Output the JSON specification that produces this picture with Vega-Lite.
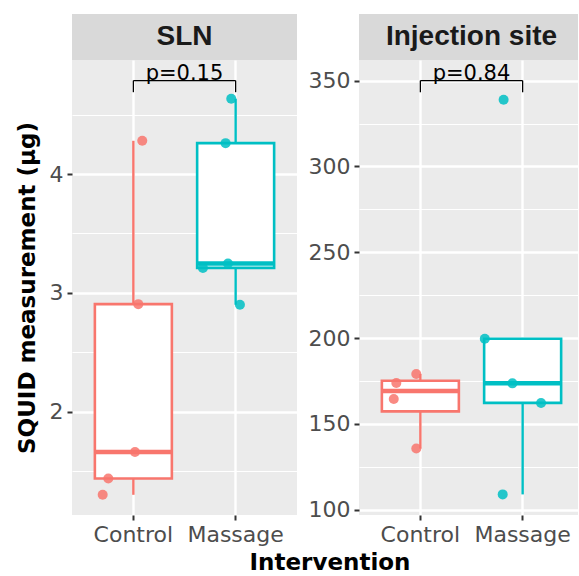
{
  "$schema": "https://vega.github.io/schema/vega-lite/v6.json",
  "background": "white",
  "padding": {"left": 16, "top": 14, "right": 0, "bottom": 0},
  "bounds": "flush",
  "columns": 2,
  "spacing": {"row": 0, "column": 62},
  "title": {"text": "Intervention", "orient": "bottom", "anchor": "middle", "font": "DejaVu Sans", "fontSize": 23, "fontWeight": "bold", "color": "#000000", "dx": 30, "offset": 7},
  "datasets": {
    "obs": [
      {"panel": "SLN", "group": "Control", "value": 4.28, "jitter": 0.087},
      {"panel": "SLN", "group": "Control", "value": 2.905, "jitter": 0.048},
      {"panel": "SLN", "group": "Control", "value": 1.66, "jitter": 0.016},
      {"panel": "SLN", "group": "Control", "value": 1.437, "jitter": -0.245},
      {"panel": "SLN", "group": "Control", "value": 1.30, "jitter": -0.30},
      {"panel": "SLN", "group": "Massage", "value": 4.634, "jitter": -0.043},
      {"panel": "SLN", "group": "Massage", "value": 4.26, "jitter": -0.098},
      {"panel": "SLN", "group": "Massage", "value": 3.247, "jitter": -0.075},
      {"panel": "SLN", "group": "Massage", "value": 3.21, "jitter": -0.32},
      {"panel": "SLN", "group": "Massage", "value": 2.90, "jitter": 0.042},
      {"panel": "Injection site", "group": "Control", "value": 179.1, "jitter": -0.04},
      {"panel": "Injection site", "group": "Control", "value": 173.8, "jitter": -0.235},
      {"panel": "Injection site", "group": "Control", "value": 164.5, "jitter": -0.26},
      {"panel": "Injection site", "group": "Control", "value": 135.6, "jitter": -0.04},
      {"panel": "Injection site", "group": "Massage", "value": 338.8, "jitter": -0.186},
      {"panel": "Injection site", "group": "Massage", "value": 199.6, "jitter": -0.37},
      {"panel": "Injection site", "group": "Massage", "value": 173.6, "jitter": -0.10},
      {"panel": "Injection site", "group": "Massage", "value": 162.2, "jitter": 0.18},
      {"panel": "Injection site", "group": "Massage", "value": 108.9, "jitter": -0.195}
    ],
    "brackets": [
      {"panel": "SLN", "g1": "Control", "g2": "Massage", "ytop": 4.787, "ybot": 4.689, "label": "p=0.15"},
      {"panel": "Injection site", "g1": "Control", "g2": "Massage", "ytop": 350, "ybot": 343.2, "label": "p=0.84"}
    ]
  },
  "concat": [
    {
      "width": 225, "height": 46,
      "view": {"fill": "#D9D9D9", "stroke": null},
      "data": {"values": [{"strip": "SLN"}]},
      "mark": {"type": "text", "font": "Liberation Sans", "fontSize": 28, "fontWeight": "bold", "color": "#1A1A1A", "baseline": "middle"},
      "encoding": {"text": {"field": "strip", "type": "nominal"}}
    },
    {
      "width": 219, "height": 46,
      "view": {"fill": "#D9D9D9", "stroke": null},
      "data": {"values": [{"strip": "Injection site"}]},
      "mark": {"type": "text", "font": "Liberation Sans", "fontSize": 28, "fontWeight": "bold", "color": "#1A1A1A", "baseline": "middle", "dx": 3},
      "encoding": {"text": {"field": "strip", "type": "nominal"}}
    },
    {
      "width": 225, "height": 455,
      "view": {"fill": "#EBEBEB", "stroke": null},
      "layer": [
        {
          "data": {"name": "obs"},
          "transform": [{"filter": "datum.panel === 'SLN'"}],
          "mark": {"type": "boxplot", "color": "white", "opacity": 1, "extent": 1.5, "size": 77, "rule": false, "median": false, "ticks": false, "outliers": false},
          "encoding": {
            "x": {"field": "group", "type": "nominal", "title": null,
                  "scale": {"domain": ["Control", "Massage"], "paddingInner": 0, "paddingOuter": 0.1},
                  "axis": {"title": null, "bandPosition": 0.5, "grid": true, "gridWidth": 2.4, "labelAngle": 0}},
            "y": {"field": "value", "type": "quantitative", "title": "SQUID measurement (µg)",
                  "scale": {"domain": [1.13, 4.96], "zero": false, "nice": false},
                  "axis": {"title": "SQUID measurement (µg)", "values": [1.5, 2, 2.5, 3, 3.5, 4, 4.5],
                           "labelExpr": "datum.value % 1 === 0 ? format(datum.value, 'd') : ''",
                           "gridWidth": {"condition": {"test": "datum.value % 1 === 0", "value": 2.4}, "value": 1.2},
                           "tickOpacity": {"condition": {"test": "datum.value % 1 === 0", "value": 1}, "value": 0}}}
          }
        },
        {
          "data": {"name": "obs"},
          "transform": [{"filter": "datum.panel === 'SLN' && datum.group === 'Control'"}],
          "mark": {"type": "boxplot", "color": "#F8766D", "extent": 1.5, "size": 77, "ticks": false, "outliers": false,
                   "box": {"filled": false, "color": "#F8766D", "strokeWidth": 2.6, "opacity": 1},
                   "median": {"color": "#F8766D", "thickness": 4.5, "opacity": 1},
                   "rule": {"color": "#F8766D", "strokeWidth": 2.4, "opacity": 1}},
          "encoding": {
            "x": {"field": "group", "type": "nominal", "title": null},
            "y": {"field": "value", "type": "quantitative", "title": "SQUID measurement (µg)"}
          }
        },
        {
          "data": {"name": "obs"},
          "transform": [{"filter": "datum.panel === 'SLN' && datum.group === 'Massage'"}],
          "mark": {"type": "boxplot", "color": "#00BFC4", "extent": 1.5, "size": 77, "ticks": false, "outliers": false,
                   "box": {"filled": false, "color": "#00BFC4", "strokeWidth": 2.6, "opacity": 1},
                   "median": {"color": "#00BFC4", "thickness": 4.5, "opacity": 1},
                   "rule": {"color": "#00BFC4", "strokeWidth": 2.4, "opacity": 1}},
          "encoding": {
            "x": {"field": "group", "type": "nominal", "title": null},
            "y": {"field": "value", "type": "quantitative", "title": "SQUID measurement (µg)"}
          }
        },
        {
          "data": {"name": "obs"},
          "transform": [{"filter": "datum.panel === 'SLN'"}],
          "mark": {"type": "circle", "size": 100, "opacity": 0.85},
          "encoding": {
            "x": {"field": "group", "type": "nominal", "title": null},
            "xOffset": {"field": "jitter", "type": "quantitative", "scale": {"domain": [-0.5, 0.5]}},
            "y": {"field": "value", "type": "quantitative", "title": "SQUID measurement (µg)"},
            "color": {"field": "group", "type": "nominal", "scale": {"domain": ["Control", "Massage"], "range": ["#F8766D", "#00BFC4"]}, "legend": null}
          }
        },
        {
          "data": {"name": "brackets"},
          "transform": [{"filter": "datum.panel === 'SLN'"}],
          "mark": {"type": "rule", "color": "black", "strokeWidth": 1.3},
          "encoding": {
            "x": {"field": "g1", "type": "nominal", "title": null},
            "x2": {"field": "g2"},
            "y": {"field": "ytop", "type": "quantitative", "title": "SQUID measurement (µg)"}
          }
        },
        {
          "data": {"name": "brackets"},
          "transform": [{"filter": "datum.panel === 'SLN'"}],
          "mark": {"type": "rule", "color": "black", "strokeWidth": 1.3},
          "encoding": {
            "x": {"field": "g1", "type": "nominal", "title": null},
            "y": {"field": "ytop", "type": "quantitative", "title": "SQUID measurement (µg)"},
            "y2": {"field": "ybot"}
          }
        },
        {
          "data": {"name": "brackets"},
          "transform": [{"filter": "datum.panel === 'SLN'"}],
          "mark": {"type": "rule", "color": "black", "strokeWidth": 1.3},
          "encoding": {
            "x": {"field": "g2", "type": "nominal", "title": null},
            "y": {"field": "ytop", "type": "quantitative", "title": "SQUID measurement (µg)"},
            "y2": {"field": "ybot"}
          }
        },
        {
          "data": {"name": "brackets"},
          "transform": [{"filter": "datum.panel === 'SLN'"}],
          "mark": {"type": "text", "font": "DejaVu Sans", "fontSize": 21, "color": "black", "baseline": "alphabetic", "dy": -1},
          "encoding": {
            "x": {"field": "g1", "type": "nominal", "title": null, "bandPosition": 1},
            "y": {"field": "ytop", "type": "quantitative", "title": "SQUID measurement (µg)"},
            "text": {"field": "label", "type": "nominal"}
          }
        }
      ]
    },
    {
      "width": 219, "height": 455,
      "view": {"fill": "#EBEBEB", "stroke": null},
      "layer": [
        {
          "data": {"name": "obs"},
          "transform": [{"filter": "datum.panel === 'Injection site'"}],
          "mark": {"type": "boxplot", "color": "white", "opacity": 1, "extent": 1.5, "size": 77, "rule": false, "median": false, "ticks": false, "outliers": false},
          "encoding": {
            "x": {"field": "group", "type": "nominal", "title": null,
                  "scale": {"domain": ["Control", "Massage"], "paddingInner": 0, "paddingOuter": 0.1, "range": [0, 225]},
                  "axis": {"title": null, "bandPosition": 0.5, "grid": true, "gridWidth": 2.4, "labelAngle": 0}},
            "y": {"field": "value", "type": "quantitative", "title": null,
                  "scale": {"domain": [96.9, 362], "zero": false, "nice": false},
                  "axis": {"title": null, "values": [100, 125, 150, 175, 200, 225, 250, 275, 300, 325, 350],
                           "labelExpr": "datum.value % 50 === 0 ? format(datum.value, 'd') : ''",
                           "gridWidth": {"condition": {"test": "datum.value % 50 === 0", "value": 2.4}, "value": 1.2},
                           "tickOpacity": {"condition": {"test": "datum.value % 50 === 0", "value": 1}, "value": 0}}}
          }
        },
        {
          "data": {"name": "obs"},
          "transform": [{"filter": "datum.panel === 'Injection site' && datum.group === 'Control'"}],
          "mark": {"type": "boxplot", "color": "#F8766D", "extent": 1.5, "size": 77, "ticks": false, "outliers": false,
                   "box": {"filled": false, "color": "#F8766D", "strokeWidth": 2.6, "opacity": 1},
                   "median": {"color": "#F8766D", "thickness": 4.5, "opacity": 1},
                   "rule": {"color": "#F8766D", "strokeWidth": 2.4, "opacity": 1}},
          "encoding": {
            "x": {"field": "group", "type": "nominal", "title": null},
            "y": {"field": "value", "type": "quantitative", "title": null}
          }
        },
        {
          "data": {"name": "obs"},
          "transform": [{"filter": "datum.panel === 'Injection site' && datum.group === 'Massage'"}],
          "mark": {"type": "boxplot", "color": "#00BFC4", "extent": 1.5, "size": 77, "ticks": false, "outliers": false,
                   "box": {"filled": false, "color": "#00BFC4", "strokeWidth": 2.6, "opacity": 1},
                   "median": {"color": "#00BFC4", "thickness": 4.5, "opacity": 1},
                   "rule": {"color": "#00BFC4", "strokeWidth": 2.4, "opacity": 1}},
          "encoding": {
            "x": {"field": "group", "type": "nominal", "title": null},
            "y": {"field": "value", "type": "quantitative", "title": null}
          }
        },
        {
          "data": {"name": "obs"},
          "transform": [{"filter": "datum.panel === 'Injection site'"}],
          "mark": {"type": "circle", "size": 100, "opacity": 0.85},
          "encoding": {
            "x": {"field": "group", "type": "nominal", "title": null},
            "xOffset": {"field": "jitter", "type": "quantitative", "scale": {"domain": [-0.5, 0.5]}},
            "y": {"field": "value", "type": "quantitative", "title": null},
            "color": {"field": "group", "type": "nominal", "scale": {"domain": ["Control", "Massage"], "range": ["#F8766D", "#00BFC4"]}, "legend": null}
          }
        },
        {
          "data": {"name": "brackets"},
          "transform": [{"filter": "datum.panel === 'Injection site'"}],
          "mark": {"type": "rule", "color": "black", "strokeWidth": 1.3},
          "encoding": {
            "x": {"field": "g1", "type": "nominal", "title": null},
            "x2": {"field": "g2"},
            "y": {"field": "ytop", "type": "quantitative", "title": null}
          }
        },
        {
          "data": {"name": "brackets"},
          "transform": [{"filter": "datum.panel === 'Injection site'"}],
          "mark": {"type": "rule", "color": "black", "strokeWidth": 1.3},
          "encoding": {
            "x": {"field": "g1", "type": "nominal", "title": null},
            "y": {"field": "ytop", "type": "quantitative", "title": null},
            "y2": {"field": "ybot"}
          }
        },
        {
          "data": {"name": "brackets"},
          "transform": [{"filter": "datum.panel === 'Injection site'"}],
          "mark": {"type": "rule", "color": "black", "strokeWidth": 1.3},
          "encoding": {
            "x": {"field": "g2", "type": "nominal", "title": null},
            "y": {"field": "ytop", "type": "quantitative", "title": null},
            "y2": {"field": "ybot"}
          }
        },
        {
          "data": {"name": "brackets"},
          "transform": [{"filter": "datum.panel === 'Injection site'"}],
          "mark": {"type": "text", "font": "DejaVu Sans", "fontSize": 21, "color": "black", "baseline": "alphabetic", "dy": -1},
          "encoding": {
            "x": {"field": "g1", "type": "nominal", "title": null, "bandPosition": 1},
            "y": {"field": "ytop", "type": "quantitative", "title": null},
            "text": {"field": "label", "type": "nominal"}
          }
        }
      ]
    }
  ],
  "config": {
    "view": {"stroke": null},
    "axis": {
      "domain": false,
      "gridColor": "white",
      "tickColor": "#333333",
      "tickWidth": 2,
      "tickSize": 5,
      "labelFont": "DejaVu Sans",
      "labelFontSize": 22,
      "labelColor": "#4D4D4D",
      "labelPadding": 4,
      "titleFont": "DejaVu Sans",
      "titleFontSize": 23,
      "titleFontWeight": "bold",
      "titleColor": "#000000",
      "titlePadding": 10
    }
  }
}
